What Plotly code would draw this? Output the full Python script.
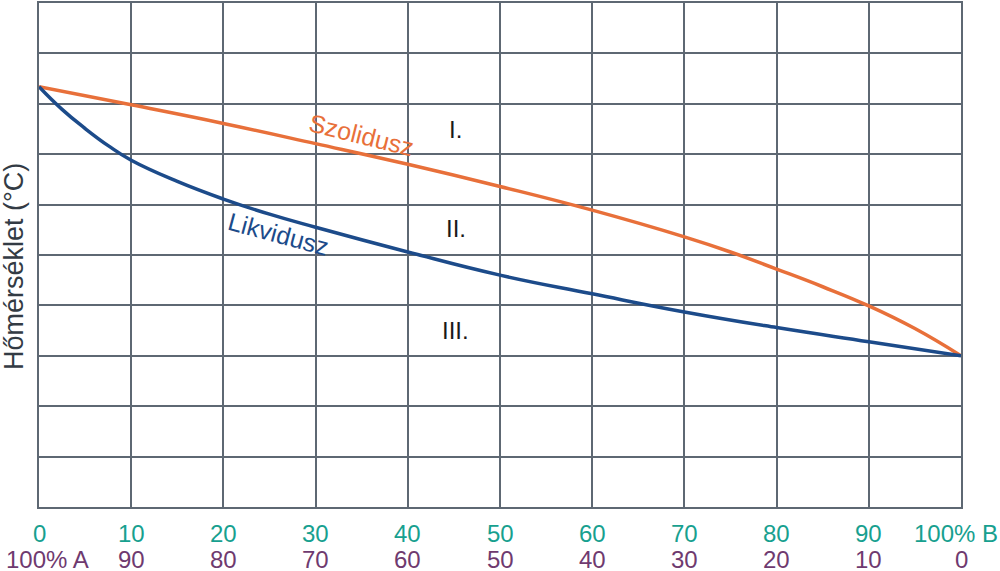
import plotly.graph_objects as go

# --- data ---
solidus_x = [0, 10, 20, 30, 40, 50, 60, 70, 75, 80, 85, 90, 95, 100]
solidus_t = [8.34, 7.98, 7.61, 7.21, 6.80, 6.36, 5.89, 5.36, 5.06, 4.72, 4.37, 3.99, 3.54, 3.0]

liquidus_x = [0, 2.5, 5, 7.5, 10, 15, 20, 25, 30, 40, 50, 60, 70, 80, 90, 100]
liquidus_t = [8.34, 7.89, 7.51, 7.17, 6.88, 6.46, 6.11, 5.81, 5.55, 5.06, 4.60, 4.23, 3.87, 3.56, 3.28, 3.0]

tick_pos = [0, 10, 20, 30, 40, 50, 60, 70, 80, 90, 100]
tick_b = ["0", "10", "20", "30", "40", "50", "60", "70", "80", "90", "100% B"]
tick_a = ["100% A", "90", "80", "70", "60", "50", "40", "30", "20", "10", "0"]

region_labels = ["I.", "II.", "III."]
region_x = [45.2, 45.2, 45.2]
region_y = [7.5, 5.52, 3.5]

FONT = "Liberation Sans, Arial, sans-serif"
ORANGE = "#E8703A"
BLUE = "#1C4B8A"
TEAL = "#17A08F"
PURPLE = "#6F3A6F"
GRID = "#5E6873"

fig = go.Figure()
fig.add_trace(go.Scatter(x=solidus_x, y=solidus_t, mode="lines",
                         line=dict(color=ORANGE, width=3.5, shape="spline", smoothing=1.3),
                         name="Szolidusz", showlegend=False, hoverinfo="skip"))
fig.add_trace(go.Scatter(x=liquidus_x, y=liquidus_t, mode="lines",
                         line=dict(color=BLUE, width=3.5, shape="spline", smoothing=1.3),
                         name="Likvidusz", showlegend=False, hoverinfo="skip"))

ann = []
for p, tb, ta in zip(tick_pos, tick_b, tick_a):
    d1 = dict(x=p, y=0, xref="x", yref="paper", text=tb, showarrow=False,
              font=dict(family=FONT, size=24, color=TEAL), yanchor="middle", yshift=-26)
    d2 = dict(x=p, y=0, xref="x", yref="paper", text=ta, showarrow=False,
              font=dict(family=FONT, size=24, color=PURPLE), yanchor="middle", yshift=-52)
    if tb.startswith("100%"):
        d1.update(xanchor="right", xshift=39)
    if ta.startswith("100%"):
        d2.update(xanchor="left", xshift=-35)
    ann += [d1, d2]

for t, x, y in zip(region_labels, region_x, region_y):
    ann.append(dict(x=x, y=y, xref="x", yref="y", text=t, showarrow=False,
                    font=dict(family=FONT, size=24, color="#1a1a1a")))

ann.append(dict(x=35.0, y=7.38, xref="x", yref="y", text="Szolidusz", showarrow=False,
                textangle=14, font=dict(family=FONT, size=25, color=ORANGE)))
ann.append(dict(x=26.0, y=5.42, xref="x", yref="y", text="Likvidusz", showarrow=False,
                textangle=15, font=dict(family=FONT, size=25, color=BLUE)))

ann.append(dict(x=0, y=0.476, xref="paper", yref="paper", text="Hőmérséklet (°C)",
                showarrow=False, textangle=-90, xanchor="center", yanchor="middle", xshift=-25,
                font=dict(family=FONT, size=27, color="#333b44")))

fig.update_layout(
    width=1000, height=571,
    margin=dict(l=39, r=39, t=1, b=64),
    paper_bgcolor="white", plot_bgcolor="white",
    annotations=ann,
    showlegend=False,
)
fig.update_xaxes(range=[0, 100], dtick=10, tick0=0, showgrid=True, gridcolor=GRID, gridwidth=1.5,
                 showticklabels=False, zeroline=False, showline=True, mirror=True,
                 linecolor=GRID, linewidth=1.5, ticks="")
fig.update_yaxes(range=[0, 10], dtick=1, tick0=0, showgrid=True, gridcolor=GRID, gridwidth=1.5,
                 showticklabels=False, zeroline=False, showline=True, mirror=True,
                 linecolor=GRID, linewidth=1.5, ticks="")

fig.write_html("out.html", config={"displayModeBar": False},
               post_script="document.body.style.margin='0px';")
